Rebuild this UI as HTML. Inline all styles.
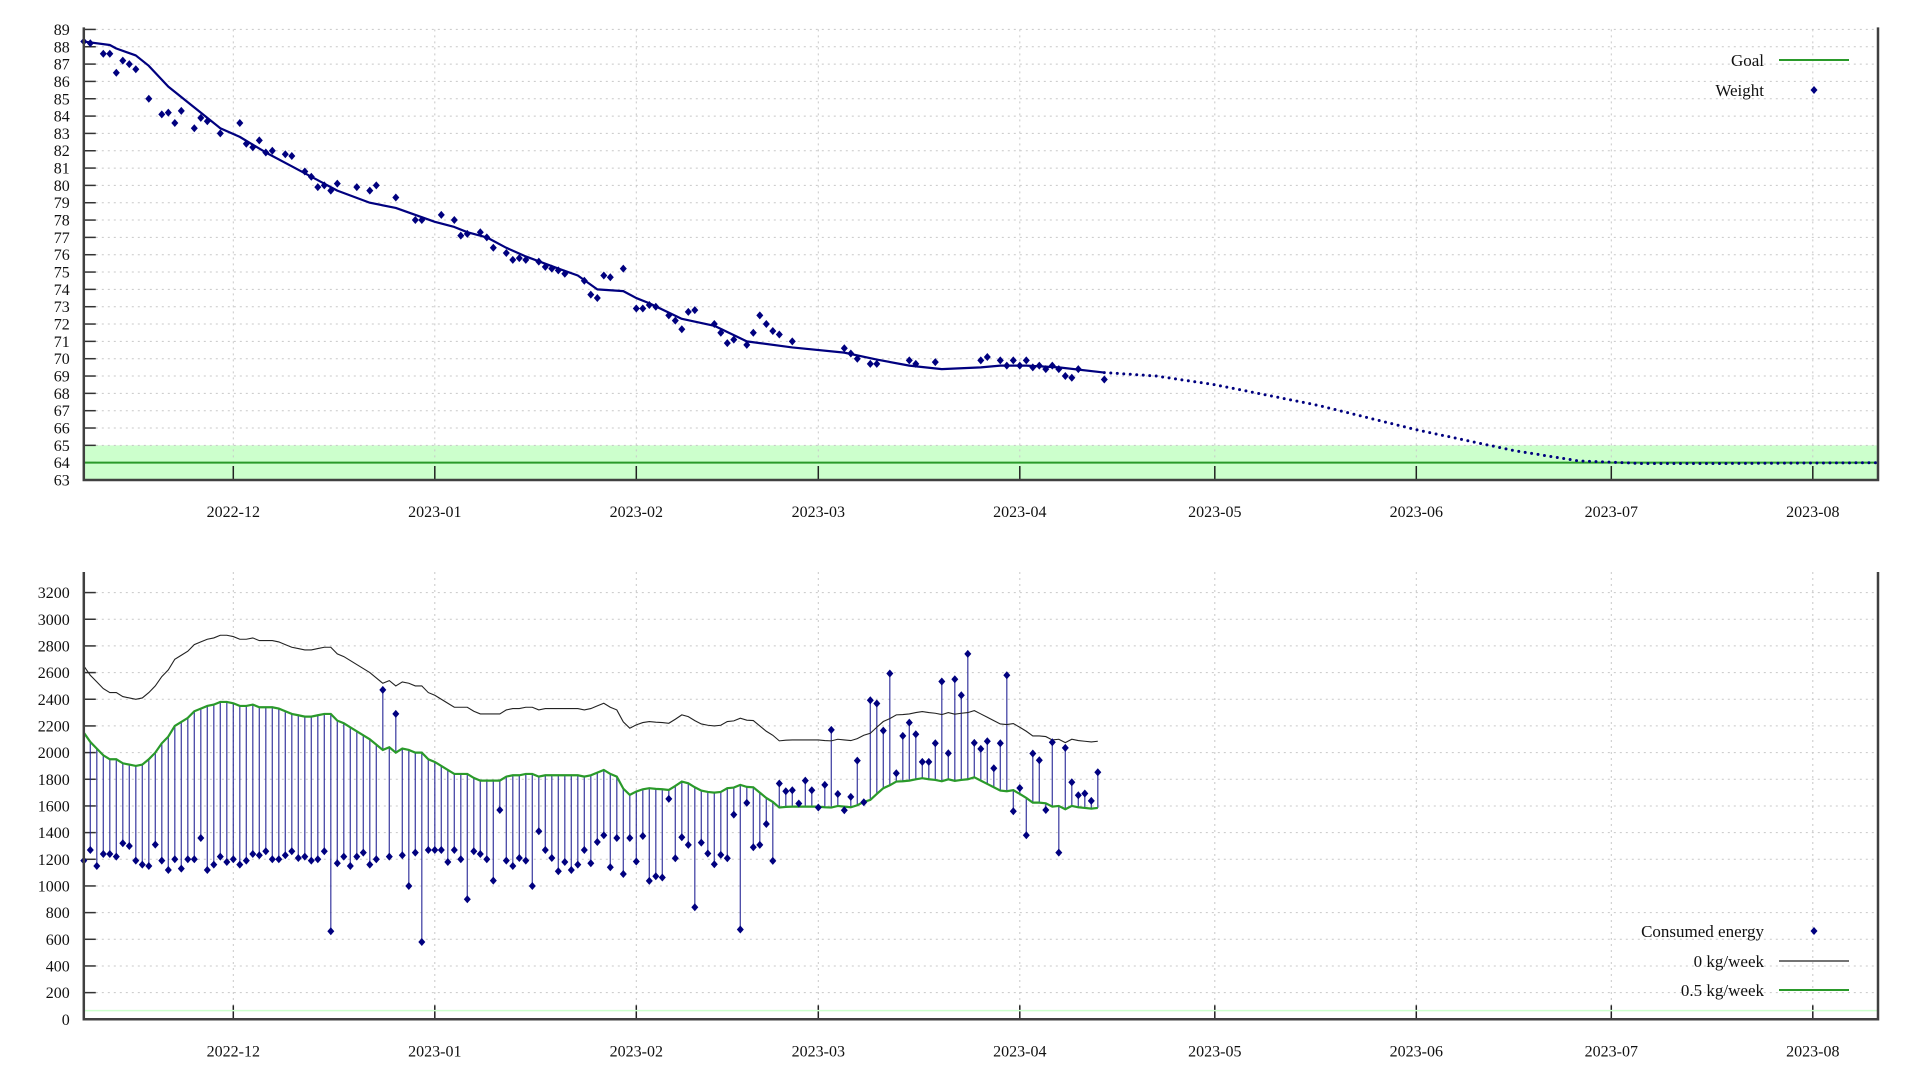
<!DOCTYPE html>
<html><head><meta charset="utf-8"><style>
html,body{margin:0;padding:0;background:#fff;}
svg{display:block;font-family:"Liberation Serif",serif;}
</style></head><body>
<svg id="chart" width="1920" height="1080" viewBox="0 0 1920 1080" xmlns="http://www.w3.org/2000/svg">
<g id="top"></g>
<g id="bot"></g>
</svg>
<script>
// Day offsets are counted from 2022-11-08
const monthLabels = ["2022-12","2023-01","2023-02","2023-03","2023-04","2023-05","2023-06","2023-07","2023-08"];
const monthDays = [23,54,85,113,144,174,205,235,266];
const weightTicks = [63,64,65,66,67,68,69,70,71,72,73,74,75,76,77,78,79,80,81,82,83,84,85,86,87,88,89];
const energyTicks = [0,200,400,600,800,1000,1200,1400,1600,1800,2000,2200,2400,2600,2800,3000,3200];
const weightDays = [0,1,3,4,5,6,7,8,10,12,13,14,15,17,18,19,21,24,25,26,27,28,29,31,32,34,35,36,37,38,39,42,44,45,48,51,52,55,57,58,59,61,62,63,65,66,67,68,70,71,72,73,74,77,78,79,80,81,83,85,86,87,88,90,91,92,93,94,97,98,99,100,102,103,104,105,106,107,109,117,118,119,121,122,127,128,131,138,139,141,142,143,144,145,146,147,148,149,150,151,152,153,157];
const weightVals = [88.3,88.2,87.6,87.6,86.5,87.2,87.0,86.7,85.0,84.1,84.2,83.6,84.3,83.3,83.9,83.7,83.0,83.6,82.4,82.2,82.6,81.9,82.0,81.8,81.7,80.8,80.5,79.9,80.0,79.7,80.1,79.9,79.7,80.0,79.3,78.0,78.0,78.3,78.0,77.1,77.2,77.3,77.0,76.4,76.1,75.7,75.8,75.7,75.6,75.3,75.2,75.1,74.9,74.5,73.7,73.5,74.8,74.7,75.2,72.9,72.9,73.1,73.0,72.5,72.2,71.7,72.7,72.8,72.0,71.5,70.9,71.1,70.8,71.5,72.5,72.0,71.6,71.4,71.0,70.6,70.3,70.0,69.7,69.7,69.9,69.7,69.8,69.9,70.1,69.9,69.6,69.9,69.6,69.9,69.5,69.6,69.4,69.6,69.4,69.0,68.9,69.4,68.8];
const trendDays = [0,4,5,8,10,13,16,18,21,24,28,32,36,39,44,48,54,57,59,62,65,68,73,76,79,83,85,87,92,97,102,104,109,117,122,127,132,138,141,145,150,157];
const trendVals = [88.3,88.1,87.9,87.5,86.9,85.7,84.8,84.2,83.3,82.8,81.9,81.1,80.3,79.7,79.0,78.7,77.9,77.6,77.3,77.0,76.4,75.9,75.2,74.8,74.0,73.9,73.5,73.2,72.3,71.9,71.0,70.9,70.65,70.35,69.95,69.6,69.4,69.5,69.6,69.6,69.5,69.2];
const forecastDays = [157,165,174,190,205,220,230,240,250,278];
const forecastVals = [69.2,69.0,68.5,67.3,65.9,64.7,64.1,63.95,63.95,64.0];
const goalWeight = 64;
const goalLow = 63, goalHigh = 65;
const consumed = [1190,1270,1150,1240,1240,1220,1320,1300,1190,1160,
1150,1310,1190,1120,1200,1130,1200,1200,1360,1120,
1160,1220,1180,1200,1160,1190,1240,1230,1260,1200,
1200,1230,1260,1210,1220,1190,1200,1260,660,1170,
1220,1150,1220,1250,1160,1200,2470,1220,2290,1230,
1000,1250,580,1270,1270,1270,1180,1270,1200,900,
1260,1240,1200,1040,1570,1190,1150,1210,1190,1000,
1410,1270,1210,1110,1180,1120,1160,1270,1170,1330,
1380,1140,1360,1090,1360,1183,1375,1038,1073,1063,
1653,1208,1365,1308,840,1325,1243,1163,1233,1208,
1535,673,1623,1290,1308,1465,1188,1768,1710,1718,
1618,1790,1718,1588,1758,2170,1690,1568,1668,1940,
1628,2393,2368,2165,2593,1845,2125,2225,2138,1930,
1930,2070,2533,1995,2550,2430,2740,2073,2028,2085,
1883,2070,2580,1560,1735,1380,1993,1943,1570,2078,
1250,2035,1778,1680,1693,1638,1853];
const maintenance = [2650,2580,2530,2480,2450,2450,2420,2410,2400,2410,
2450,2500,2570,2620,2700,2730,2760,2810,2830,2850,
2860,2880,2880,2870,2850,2850,2860,2840,2840,2840,
2830,2810,2790,2780,2770,2770,2780,2790,2790,2740,
2720,2690,2660,2630,2600,2560,2520,2540,2500,2530,
2520,2500,2500,2450,2430,2400,2370,2340,2340,2340,
2310,2290,2290,2290,2290,2320,2330,2330,2340,2340,
2320,2330,2330,2330,2330,2330,2330,2320,2330,2350,
2370,2340,2320,2230,2183,2208,2225,2233,2228,2225,
2220,2250,2283,2270,2240,2215,2205,2200,2205,2233,
2238,2258,2243,2240,2200,2160,2130,2088,2093,2095,
2095,2095,2095,2095,2090,2088,2100,2095,2090,2105,
2130,2145,2190,2233,2255,2283,2285,2290,2300,2308,
2300,2295,2285,2300,2288,2295,2300,2315,2290,2265,
2240,2215,2210,2218,2190,2160,2125,2125,2120,2095,
2100,2075,2100,2090,2085,2080,2085];
const deficitHalfKg = 500;

const NS = "http://www.w3.org/2000/svg";
const L = 83.8, R = 1878, PXDAY = 6.5;
const x = d => L + d * PXDAY;
const yW = v => 358.7 - (v - 70) * 17.33;
const yE = v => 1019.3 - v * (26.67 / 200);
const NAVY = "#00007f", GREEN = "#2a9a2a";
function mk(parent, tag, attrs, text) {
  const el = document.createElementNS(NS, tag);
  for (const k in attrs) el.setAttribute(k, attrs[k]);
  if (text !== undefined) el.textContent = text;
  parent.appendChild(el);
  return el;
}
function diamond(g, cx, cy) {
  return mk(g, "path", {d: `M${cx} ${cy-4}L${cx+3.5} ${cy}L${cx} ${cy+4}L${cx-3.5} ${cy}Z`, fill: NAVY});
}
function panel(g, yTop, yBot, ticks, yf, name) {
  ticks.forEach(t => {
    const l = mk(g, "line", {x1: L, x2: R, y1: yf(t), y2: yf(t), stroke: "#c8c8c8", "stroke-dasharray": "2,4", "stroke-width": 1});
    
    
    const tk = mk(g, "line", {x1: L, x2: L + 12, y1: yf(t), y2: yf(t), stroke: "#333", "stroke-width": 1.5});
    
    
    const tx = mk(g, "text", {x: L - 14, y: yf(t) + 5.5, "text-anchor": "end", "font-size": 16, fill: "#111"}, t);
    
    
  });
  monthDays.forEach((d, i) => {
    const l = mk(g, "line", {x1: x(d), x2: x(d), y1: yTop, y2: yBot, stroke: "#c8c8c8", "stroke-dasharray": "2,4", "stroke-width": 1});
    
    
    const tk = mk(g, "line", {x1: x(d), x2: x(d), y1: yBot - 14, y2: yBot, stroke: "#222", "stroke-width": 1.5});
    
    
    const tx = mk(g, "text", {x: x(d), y: yBot + 37, "text-anchor": "middle", "font-size": 16, fill: "#111"}, monthLabels[i]);
    
    
  });
}
function frame(g, yTop, yBot, name) {
  const f = mk(g, "path", {d: `M${L} ${yTop}V${yBot}H${R}V${yTop}`, fill: "none", stroke: "#404040", "stroke-width": 2.5});
  
  
}
function legendRow(g, yy, label, kind, color, name) {
  const t = mk(g, "text", {x: 1764, y: yy + 6, "text-anchor": "end", "font-size": 17, fill: "#111"}, label);
  
  
  let s;
  if (kind === "line") s = mk(g, "line", {x1: 1779, x2: 1849, y1: yy, y2: yy, stroke: color, "stroke-width": color === GREEN ? 2 : 1.2});
  else s = diamond(g, 1814, yy);
  
  
}

// ===== TOP PANEL =====
const topG = document.getElementById("top");
const yT0 = yW(89), yT1 = yW(63);
const band = mk(topG, "rect", {x: L, y: yW(goalHigh), width: R - L, height: yW(goalLow) - yW(goalHigh), fill: "#ccffcc"});


panel(topG, yT0, yT1, weightTicks, yW, "weight");
const goal = mk(topG, "line", {x1: L, x2: R, y1: yW(goalWeight), y2: yW(goalWeight), stroke: GREEN, "stroke-width": 2});


const trend = mk(topG, "polyline", {points: trendDays.map((d, i) => x(d) + "," + yW(trendVals[i])).join(" "), fill: "none", stroke: NAVY, "stroke-width": 2.2, "stroke-linejoin": "round"});


const fc = mk(topG, "polyline", {points: forecastDays.map((d, i) => x(Math.min(d, (R - L) / PXDAY)) + "," + yW(forecastVals[i])).join(" "), fill: "none", stroke: NAVY, "stroke-width": 3, "stroke-dasharray": "0,6.5", "stroke-linecap": "round"});


weightDays.forEach((d, i) => {
  const p = diamond(topG, x(d), yW(weightVals[i]));
  
  
});
frame(topG, yT0 - 2, yT1, "weight");
legendRow(topG, 60, "Goal", "line", GREEN, "legend-goal");
legendRow(topG, 90, "Weight", "point", NAVY, "legend-weight");

// ===== BOTTOM PANEL =====
const botG = document.getElementById("bot");
const yB0 = 572, yB1 = yE(0);
panel(botG, yB0, yB1, energyTicks, yE, "energy");
const gl = mk(botG, "line", {x1: L, x2: R, y1: yE(65), y2: yE(65), stroke: "#ccffcc", "stroke-width": 1.5});


consumed.forEach((v, i) => {
  const s = mk(botG, "line", {x1: x(i), x2: x(i), y1: yE(maintenance[i] - deficitHalfKg), y2: yE(v), stroke: "#1a1a90", "stroke-width": 1.3, opacity: 0.8});
  
  
});
const maint = mk(botG, "polyline", {points: maintenance.map((v, i) => x(i) + "," + yE(v)).join(" "), fill: "none", stroke: "#222", "stroke-width": 1.1});


const half = mk(botG, "polyline", {points: maintenance.map((v, i) => x(i) + "," + yE(v - deficitHalfKg)).join(" "), fill: "none", stroke: GREEN, "stroke-width": 2.2});


consumed.forEach((v, i) => {
  const p = diamond(botG, x(i), yE(v));
  
  
});
frame(botG, yB0, yB1, "energy");
legendRow(botG, 931, "Consumed energy", "point", NAVY, "legend-consumed");
legendRow(botG, 961, "0 kg/week", "line", "#222", "legend-zero-kg");
legendRow(botG, 990, "0.5 kg/week", "line", GREEN, "legend-half-kg");
</script>
</body></html>
